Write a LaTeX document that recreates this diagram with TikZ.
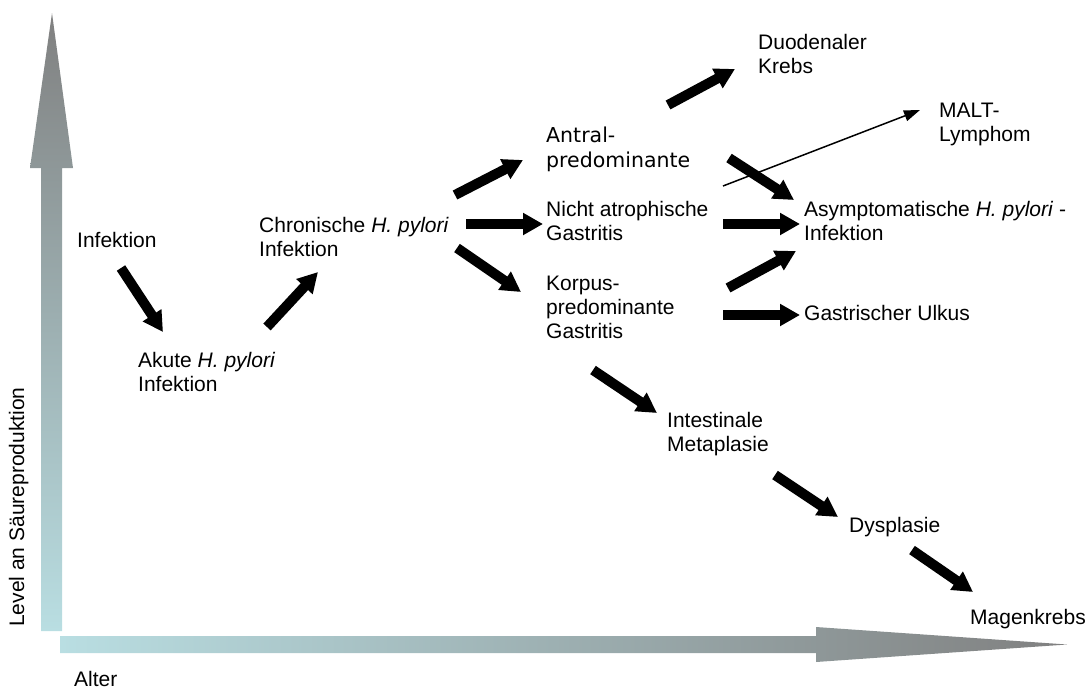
\documentclass[tikz,border=0pt]{standalone}
\usepackage{fontspec}
\setmainfont{Liberation Sans}
\newfontfamily\verdanalike{DejaVu Sans}
\usepackage{tikz}
\usetikzlibrary{arrows.meta}
\definecolor{axlight}{RGB}{185,222,226}
\definecolor{axdark}{RGB}{128,128,128}
\tikzstyle{lbl} = [inner sep=0,anchor=base west,align=left,font=\fontsize{21}{24}\selectfont]
\tikzstyle{fatarrow} = [draw,line width=10pt,-{Triangle[width=21pt,length=20pt]}]
\tikzstyle{slimarrow} = [draw,line width=1.5pt,-{Triangle[width=11pt,length=16pt]}]

\begin{document}
\begin{tikzpicture}[x=1pt,y=-1pt]
    \useasboundingbox (0,0) rectangle (1089,691);

    % axes
    \shade[bottom color=axlight,top color=axdark] (41,631) -- (62,631) -- (62,168) -- (73,168) -- (52,13) -- (30,168) -- (41,168) -- cycle;
    \shade[left color=axlight,right color=axdark] (60,636) -- (816,636) -- (816,627) -- (1067,644.5) -- (816,662) -- (816,653) -- (60,653) -- cycle;
    \node[lbl,rotate=90] (level) at (24,627) {Level an Säureproduktion};
    \node[lbl] (alter) at (74,686) {Alter};

    % labels (placed at the baseline of their last line)
    \node[lbl] (inf) at (77,247) {Infektion};
    \node[lbl] (akute) at (138,391) {Akute \textit{H. pylori}\\Infektion};
    \node[lbl] (chron) at (259,256) {Chronische \textit{H. pylori}\\Infektion};
    \node[lbl,font=\verdanalike\fontsize{20.5}{25}\selectfont] (antral) at (546,167) {Antral-\\predominante};
    \node[lbl] (nicht) at (546,240) {Nicht atrophische\\Gastritis};
    \node[lbl] (korpus) at (546,338) {Korpus-\\predominante\\Gastritis};
    \node[lbl] (duod) at (758,73) {Duodenaler\\Krebs};
    \node[lbl] (malt) at (939,141) {MALT-\\Lymphom};
    \node[lbl] (asym) at (804,240) {Asymptomatische \textit{H. pylori} -\\Infektion};
    \node[lbl] (ulkus) at (804,320) {Gastrischer Ulkus};
    \node[lbl] (intest) at (667,451) {Intestinale\\Metaplasie};
    \node[lbl] (dysp) at (849,532) {Dysplasie};
    \node[lbl] (magen) at (970,624) {Magenkrebs};

    \draw[fatarrow] ([shift={(44,21)}]inf.base west) -- ([shift={(25,-59)}]akute.base west);
    \draw[fatarrow] ([shift={(129,-64)}]akute.base west) -- ([shift={(59,16)}]chron.base west);
    \draw[fatarrow] ([shift={(196,-61)}]chron.base west) -- ([shift={(-23,-7)}]antral.base west);
    \draw[fatarrow] ([shift={(207,-32)}]chron.base west) -- ([shift={(-3,-16)}]nicht.base west);
    \draw[fatarrow] ([shift={(198,-8)}]chron.base west) -- ([shift={(-25,-46)}]korpus.base west);
    \draw[fatarrow] ([shift={(122,-62)}]antral.base west) -- ([shift={(-23,-4)}]duod.base west);
    \draw[slimarrow] ([shift={(177,-54)}]nicht.base west) -- ([shift={(-19,-31)}]malt.base west);
    \draw[fatarrow] ([shift={(183,-9)}]antral.base west) -- ([shift={(-10,-40)}]asym.base west);
    \draw[fatarrow] ([shift={(177,-16)}]nicht.base west) -- ([shift={(-4,-16)}]asym.base west);
    \draw[fatarrow] ([shift={(182,-50)}]korpus.base west) -- ([shift={(-8,11)}]asym.base west);
    \draw[fatarrow] ([shift={(177,-23)}]korpus.base west) -- ([shift={(-4,-5)}]ulkus.base west);
    \draw[fatarrow] ([shift={(47,32)}]korpus.base west) -- ([shift={(-10,-38)}]intest.base west);
    \draw[fatarrow] ([shift={(108,24)}]intest.base west) -- ([shift={(-11,-15)}]dysp.base west);
    \draw[fatarrow] ([shift={(63,18)}]dysp.base west) -- ([shift={(3,-32)}]magen.base west);
\end{tikzpicture}
\end{document}
